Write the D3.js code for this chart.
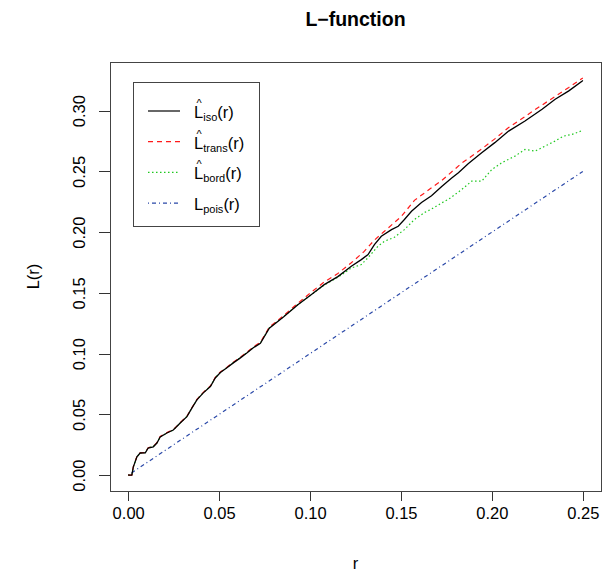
<!DOCTYPE html>
<html>
<head>
<meta charset="utf-8">
<script src="https://cdn.jsdelivr.net/npm/d3@7"></script>
<style>
  html, body { margin: 0; padding: 0; background: #fff; }
  svg text { font-family: "Liberation Sans", Arial, Helvetica, sans-serif; fill: #000; }
</style>
</head>
<body>
<svg id="chart" width="614" height="572"></svg>
<script>
"use strict";

// ── Data ──────────────────────────────────────────────────────────────────────
const xTicks = [0.00, 0.05, 0.10, 0.15, 0.20, 0.25];
const yTicks = [0.00, 0.05, 0.10, 0.15, 0.20, 0.25, 0.30];

// isotropic estimate  [r, L(r)]
const isoPts = [
  [0,0],[0.002,0],[0.0028,0.0066],[0.0048,0.0151],[0.0066,0.0182],[0.0094,0.0184],
  [0.011,0.0223],[0.0138,0.0233],[0.0158,0.0264],[0.0176,0.0314],[0.0213,0.0347],
  [0.0248,0.0371],[0.0286,0.0429],[0.0323,0.0481],[0.0351,0.0553],[0.0378,0.0619],
  [0.0413,0.0677],[0.0452,0.0729],[0.0479,0.08],[0.0507,0.0844],[0.0543,0.0883],
  [0.0578,0.0924],[0.0617,0.0965],[0.0654,0.1007],[0.0688,0.1048],[0.0727,0.1085],
  [0.0776,0.121],[0.0857,0.1306],[0.0933,0.1403],[0.1006,0.1485],[0.1078,0.1568],
  [0.1153,0.1634],[0.1227,0.1719],[0.1282,0.1774],[0.1319,0.1815],[0.1354,0.1898],
  [0.1392,0.1966],[0.1448,0.2021],[0.1485,0.2049],[0.1519,0.2104],[0.1558,0.2172],
  [0.1613,0.2244],[0.1668,0.23],[0.1724,0.2375],[0.1779,0.2445],[0.1816,0.249],
  [0.1871,0.2565],[0.1944,0.2654],[0.2016,0.2737],[0.2092,0.2832],[0.2182,0.2915],
  [0.2276,0.3012],[0.2348,0.3094],[0.2423,0.3163],[0.2497,0.3245],[0.25,0.325]
];

// translation-corrected estimate
const transPts = [
  [0,0],[0.002,0],[0.0028,0.0068],[0.0048,0.0153],[0.0066,0.0184],[0.0094,0.0186],
  [0.011,0.0225],[0.0138,0.0236],[0.0158,0.0267],[0.0176,0.0318],[0.0213,0.035],
  [0.0248,0.0374],[0.0286,0.0432],[0.0323,0.0485],[0.0351,0.0557],[0.0378,0.0623],
  [0.0413,0.0681],[0.0452,0.0733],[0.0479,0.0805],[0.0507,0.0849],[0.0543,0.0888],
  [0.0578,0.093],[0.0617,0.0971],[0.0654,0.1013],[0.0688,0.1055],[0.0727,0.1093],
  [0.0776,0.1218],[0.0857,0.1316],[0.0933,0.1415],[0.1006,0.1505],[0.1078,0.159],
  [0.1153,0.166],[0.1227,0.1748],[0.1298,0.1842],[0.1354,0.1935],[0.1409,0.2007],
  [0.1503,0.2131],[0.1574,0.2262],[0.1668,0.2365],[0.1724,0.2425],[0.1834,0.2568],
  [0.1944,0.2685],[0.2016,0.2768],[0.2092,0.2861],[0.2237,0.3008],[0.2348,0.3118],
  [0.2423,0.3191],[0.25,0.327]
];

// border-corrected estimate
const bordPts = [
  [0,0],[0.002,0],[0.0028,0.0066],[0.0048,0.0151],[0.0066,0.0182],[0.0094,0.0186],
  [0.011,0.0225],[0.0138,0.0236],[0.0158,0.0266],[0.0176,0.0314],[0.0213,0.0347],
  [0.0248,0.0371],[0.0286,0.0429],[0.0323,0.0483],[0.0351,0.0555],[0.0378,0.0622],
  [0.0413,0.0679],[0.0452,0.0731],[0.0479,0.0803],[0.0507,0.0846],[0.0543,0.0885],
  [0.0578,0.0926],[0.0617,0.0968],[0.0654,0.101],[0.0688,0.105],[0.0727,0.1087],
  [0.0776,0.1212],[0.0857,0.1308],[0.0933,0.1404],[0.1006,0.1484],[0.1078,0.1565],
  [0.1153,0.1628],[0.1227,0.1705],[0.1282,0.1733],[0.1319,0.179],[0.1374,0.1885],
  [0.1409,0.1925],[0.1464,0.1958],[0.1519,0.2021],[0.1574,0.2104],[0.163,0.2162],
  [0.1668,0.219],[0.174,0.2255],[0.176,0.2269],[0.1834,0.2351],[0.1889,0.242],
  [0.1944,0.242],[0.2,0.2516],[0.2055,0.2572],[0.2127,0.2626],[0.2182,0.2681],
  [0.2237,0.2667],[0.2293,0.2709],[0.2348,0.275],[0.2395,0.2791],[0.2441,0.2805],
  [0.25,0.2838]
];

// theoretical Poisson value L(r) = r
const poisPts = [[0,0],[0.25,0.25]];

const seriesNames = ["iso", "trans", "bord", "pois"];
const seriesHat   = [true, true, true, false];
const seriesColor = ["#000000", "#ff1a1a", "#1fc81f", "#2a48a8"];
const seriesDash  = [null, "5,4", "1.5,2.5", "1,3,4,3"];

// ── Layout ───────────────────────────────────────────────────────────────────
const box = { left: 110, right: 601, top: 62, bottom: 491 };

const svg = d3.select("#chart");

const allPts = isoPts.concat(transPts, bordPts, poisPts);
const xExt = d3.extent(allPts, d => d[0]);
const yExt = d3.extent(allPts, d => d[1]);
const padX = (xExt[1] - xExt[0]) * 0.04;
const padY = (yExt[1] - yExt[0]) * 0.04;

const x = d3.scaleLinear().domain([xExt[0] - padX, xExt[1] + padX]).range([box.left, box.right]);
const y = d3.scaleLinear().domain([yExt[0] - padY, yExt[1] + padY]).range([box.bottom, box.top]);

// ── Curves ───────────────────────────────────────────────────────────────────
const line = d3.line().x(d => x(d[0])).y(d => y(d[1]));
const seriesData = [isoPts, transPts, bordPts, poisPts];

// draw Poisson first, isotropic last so it sits on top
[3, 2, 1, 0].forEach(i => {
  svg.append("path")
    .datum(seriesData[i])
    .attr("d", line)
    .attr("fill", "none")
    .attr("stroke", seriesColor[i])
    .attr("stroke-width", i === 0 ? 1.3 : 1.2)
    .attr("stroke-dasharray", seriesDash[i]);
});

// ── Axes ─────────────────────────────────────────────────────────────────────
const xAxis = svg.append("g")
  .attr("transform", `translate(0,${box.bottom})`)
  .call(d3.axisBottom(x).tickValues(xTicks).tickSize(10).tickPadding(6).tickFormat(d3.format(".2f")));

const yAxis = svg.append("g")
  .attr("transform", `translate(${box.left},0)`)
  .call(d3.axisLeft(y).tickValues(yTicks).tickSize(11).tickPadding(6).tickFormat(d3.format(".2f")));

[xAxis, yAxis].forEach(a => {
  a.select(".domain").remove();
  a.selectAll(".tick line").attr("stroke", "#333").attr("shape-rendering", "crispEdges");
  a.selectAll(".tick text").attr("font-size", "16.5px").attr("fill", "#111")
    .attr("font-family", "Liberation Sans, Arial, sans-serif");
});

// y tick labels are vertical in R
yAxis.selectAll(".tick text")
  .attr("text-anchor", "middle")
  .attr("x", null).attr("dy", null)
  .attr("transform", "translate(-25,0) rotate(-90)");

// plot box
svg.append("rect")
  .attr("x", box.left).attr("y", box.top)
  .attr("width", box.right - box.left).attr("height", box.bottom - box.top)
  .attr("fill", "none").attr("stroke", "#444").attr("stroke-width", 1)
  .attr("shape-rendering", "crispEdges");

// ── Titles ───────────────────────────────────────────────────────────────────
const midX = (box.left + box.right) / 2;
const midY = (box.top + box.bottom) / 2;

svg.append("text")
  .attr("x", midX).attr("y", 26)
  .attr("text-anchor", "middle")
  .attr("font-size", "19.5px").attr("font-weight", "bold")
  .text("L\u2212function");

svg.append("text")
  .attr("x", midX).attr("y", 569)
  .attr("text-anchor", "middle")
  .attr("font-size", "16.5px")
  .text("r");

svg.append("text")
  .attr("transform", `translate(39,${midY}) rotate(-90)`)
  .attr("text-anchor", "middle")
  .attr("font-size", "16.5px")
  .text("L(r)");

// ── Legend ───────────────────────────────────────────────────────────────────
const leg = { x: 133, y: 82, w: 126, h: 144, row0: 111, rowStep: 30.7 };

svg.append("rect")
  .attr("x", leg.x).attr("y", leg.y).attr("width", leg.w).attr("height", leg.h)
  .attr("fill", "#fff").attr("stroke", "#444").attr("stroke-width", 1)
  .attr("shape-rendering", "crispEdges");

seriesNames.forEach((name, i) => {
  const ly = leg.row0 + i * leg.rowStep;
  svg.append("line")
    .attr("x1", 148).attr("x2", 180).attr("y1", ly).attr("y2", ly)
    .attr("stroke", seriesColor[i]).attr("stroke-width", 1.2)
    .attr("stroke-dasharray", seriesDash[i]);

  const t = svg.append("text")
    .attr("x", 194).attr("y", ly + 7)
    .attr("font-size", "16.5px");
  t.append("tspan").text("L");
  t.append("tspan").attr("font-size", "11px").attr("dy", 3).text(name);
  t.append("tspan").attr("dy", -3).text("(r)");

  if (seriesHat[i]) {
    svg.append("text")
      .attr("x", 199).attr("y", ly - 4)
      .attr("text-anchor", "middle")
      .attr("font-size", "11px")
      .text("^");
  }
});
</script>
</body>
</html>
